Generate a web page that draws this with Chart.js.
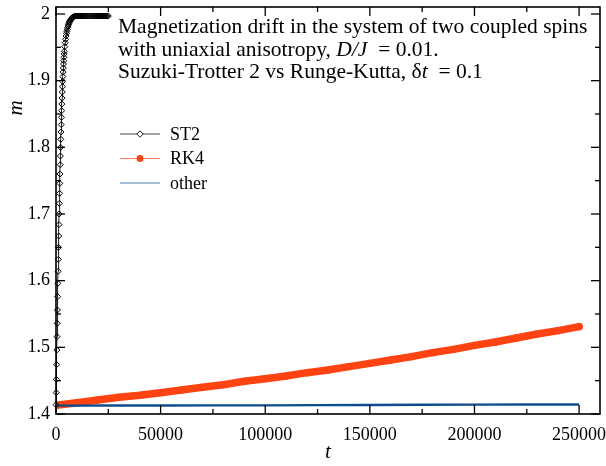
<!DOCTYPE html>
<html><head><meta charset="utf-8">
<script src="https://cdn.jsdelivr.net/npm/chart.js@4.4.0/dist/chart.umd.min.js"></script>
<style>html,body{margin:0;padding:0;background:#fff}#wrap{width:606px;height:466px}</style>
</head><body><div id="wrap"><canvas id="c" width="606" height="466"></canvas></div>
<script>
// ---------- data ----------
const st2T = [0,100,200,300,400,500,600,700,800,900,1000,1100,1200,1300,1400,1500,1600,1700,1800,1900,2000,
  2100,2200,2300,2400,2500,2600,2700,2800,2900,3000,3100,3200,3300,3400,3500,3600,3700,3800,3900,4000,
  4200,4400,4600,4800,5000,5200,5400,5600,5800,6000,6200,6400,6600,6800,7000,7200,7400,7600,7800,8000,
  8500,9000,9500,10000,10500,11000,11500,12000,12500,13000,13500,14000,14500,15000,15500,16000,16500,
  17000,17500,18000,18500,19000,19500,20000,20500,21000,21500,22000,22500,23000,23500,24000,24500,25000];
const st2M = [1.414,1.432,1.452,1.474,1.496,1.516,1.536,1.556,1.576,1.596,1.614,1.632,1.650,1.667,1.684,1.700,
  1.716,1.731,1.746,1.760,1.774,1.787,1.800,1.812,1.823,1.834,1.845,1.855,1.865,1.874,1.883,1.891,1.899,1.906,
  1.913,1.919,1.925,1.930,1.935,1.940,1.944,
  1.951,1.957,1.962,1.967,1.971,1.974,1.977,1.980,1.982,1.984,1.986,1.988,1.989,1.990,1.991,1.992,1.993,1.994,1.995,1.995,
  1.996,1.997,1.997,1.997,1.997,1.997,1.997,1.997,1.997,1.997,1.997,1.997,1.997,1.997,1.997,1.997,1.997,
  1.997,1.997,1.997,1.997,1.997,1.997,1.997,1.997,1.997,1.997,1.997,1.997,1.997,1.997,1.997,1.997,1.997];
const rk4T = [0,10000,20000,30000,40000,50000,60000,70000,80000,90000,100000,110000,120000,130000,140000,
  150000,160000,170000,180000,190000,200000,210000,220000,230000,240000,250000];
const rk4M = [1.413,1.417,1.421,1.425,1.428,1.432,1.436,1.440,1.444,1.449,1.453,1.457,1.462,1.466,1.471,
  1.476,1.481,1.486,1.492,1.497,1.503,1.508,1.514,1.520,1.525,1.531];
const otherT = [0,25000,50000,75000,100000,125000,150000,175000,200000,225000,250000];
const otherM = [1.4125,1.4127,1.4128,1.4129,1.4130,1.4133,1.4136,1.4139,1.4141,1.4142,1.4143];
const xMajorTicks = [0,50000,100000,150000,200000,250000];
const xMinorTicks = [25000,75000,125000,175000,225000];
const yMajorTicks = [1.4,1.5,1.6,1.7,1.8,1.9,2.0];
const yMinorTicks = [1.45,1.55,1.65,1.75,1.85,1.95];
const seriesNames = ['ST2','RK4','other'];
const titleLines = [
  [['Magnetization drift in the system of two coupled spins','n']],
  [['with uniaxial anisotropy, ','n'],['D/J','i'],['  = 0.01.','n']],
  [['Suzuki-Trotter 2 vs Runge-Kutta, \u03b4','n'],['t','i'],['  = 0.1','n']]
];
const xTitle = 't', yTitle = 'm';

// ---------- styling ----------
const SERIF = "'Liberation Serif','Times New Roman',serif";
const ORANGE = '#ff4312', BLUE = '#0f4c8e';
Chart.defaults.font.family = SERIF;
Chart.defaults.color = '#000';

const pts = (T, M) => T.map((t, i) => ({x: t, y: M[i]}));

const decor = {
  id: 'decor',
  afterDraw(chart) {
    const {ctx, chartArea: a, scales: {x, y}} = chart;
    ctx.save();
    ctx.strokeStyle = '#000'; ctx.lineWidth = 1.6;
    ctx.strokeRect(a.left, a.top, a.right - a.left, a.bottom - a.top);
    ctx.lineWidth = 1.3;
    const tick = (x1, y1, x2, y2) => { ctx.beginPath(); ctx.moveTo(x1, y1); ctx.lineTo(x2, y2); ctx.stroke(); };
    xMajorTicks.forEach(v => { const p = x.getPixelForValue(v); tick(p, a.bottom, p, a.bottom - 9); tick(p, a.top, p, a.top + 9); });
    xMinorTicks.forEach(v => { const p = x.getPixelForValue(v); tick(p, a.bottom, p, a.bottom - 5); tick(p, a.top, p, a.top + 5); });
    yMajorTicks.forEach(v => { const p = y.getPixelForValue(v); tick(a.left, p, a.left + 9, p); tick(a.right, p, a.right - 9, p); });
    yMinorTicks.forEach(v => { const p = y.getPixelForValue(v); tick(a.left, p, a.left + 5, p); tick(a.right, p, a.right - 5, p); });

    ctx.fillStyle = '#000'; ctx.textBaseline = 'alphabetic'; ctx.textAlign = 'left';
    const fs = 21.5, base = [33, 55.5, 78];
    titleLines.forEach((segs, li) => {
      let cx = 118;
      segs.forEach(([txt, st]) => {
        ctx.font = (st === 'i' ? 'italic ' : '') + fs + 'px ' + SERIF;
        ctx.fillText(txt, cx, base[li]);
        cx += ctx.measureText(txt).width;
      });
    });

    const ly = [134, 158.5, 183];
    const lineCols = ['#444', '#ff7a5a', '#4f7db5'];
    ctx.font = '18px ' + SERIF; ctx.textBaseline = 'middle';
    seriesNames.forEach((n, i) => {
      ctx.strokeStyle = lineCols[i]; ctx.lineWidth = 1;
      tick(120, ly[i], 160, ly[i]);
      if (i === 0) {
        ctx.beginPath(); ctx.moveTo(140, ly[i] - 3.2); ctx.lineTo(143.2, ly[i]); ctx.lineTo(140, ly[i] + 3.2); ctx.lineTo(136.8, ly[i]); ctx.closePath();
        ctx.fillStyle = '#fff'; ctx.fill(); ctx.strokeStyle = '#000'; ctx.lineWidth = 0.9; ctx.stroke();
      } else if (i === 1) {
        ctx.beginPath(); ctx.arc(140, ly[i], 3.4, 0, Math.PI * 2); ctx.fillStyle = ORANGE; ctx.fill();
      }
      ctx.fillStyle = '#000';
      ctx.fillText(n, 170, ly[i] + 1);
    });

    ctx.font = 'italic 21px ' + SERIF; ctx.textAlign = 'center'; ctx.textBaseline = 'middle';
    ctx.fillText(xTitle, (a.left + a.right) / 2, 452);
    ctx.save(); ctx.translate(16, 108); ctx.rotate(-Math.PI / 2); ctx.fillText(yTitle, 0, 0); ctx.restore();
    ctx.restore();
  }
};

new Chart(document.getElementById('c'), {
  type: 'line',
  data: {
    datasets: [
      {label: seriesNames[0], data: pts(st2T, st2M), order: 0, borderColor: '#000', borderWidth: 0.9,
       pointStyle: 'rectRot', pointRadius: 3, pointBackgroundColor: 'rgba(255,255,255,0)', pointBorderColor: '#000',
       pointBorderWidth: 1, clip: 6},
      {label: seriesNames[1], data: pts(rk4T, rk4M), order: 2, borderColor: ORANGE, borderWidth: 7.5,
       borderCapStyle: 'round', pointRadius: 3.7, pointBackgroundColor: ORANGE, pointBorderWidth: 0},
      {label: seriesNames[2], data: pts(otherT, otherM), order: 1, borderColor: BLUE, borderWidth: 2.4,
       pointRadius: 0}
    ]
  },
  options: {
    responsive: false, animation: false, events: [],
    layout: {padding: {left: 0, right: 6, top: 7, bottom: 0}},
    plugins: {legend: {display: false}, tooltip: {enabled: false}},
    scales: {
      x: {type: 'linear', min: 0, max: 260000,
          grid: {display: false, drawTicks: false}, border: {display: false},
          ticks: {padding: 10, maxRotation: 0, autoSkip: false,
                  font: {size: 18, family: SERIF}, color: '#000', callback: v => String(v)},
          afterBuildTicks: s => { s.ticks = xMajorTicks.map(v => ({value: v})); },
          afterFit: s => { s.height = 52; s.paddingLeft = 0; s.paddingRight = 0; }},
      y: {type: 'linear', min: 1.4, max: 2.0105,
          grid: {display: false, drawTicks: false}, border: {display: false},
          ticks: {padding: 6, autoSkip: false,
                  font: {size: 18, family: SERIF}, color: '#000',
                  callback: v => (Math.abs(v - 2) < 1e-9 ? '2' : v.toFixed(1))},
          afterBuildTicks: s => { s.ticks = yMajorTicks.map(v => ({value: v})); },
          afterFit: s => { s.width = 56; s.paddingTop = 0; s.paddingBottom = 0; }}
    }
  },
  plugins: [decor]
});
</script></body></html>
